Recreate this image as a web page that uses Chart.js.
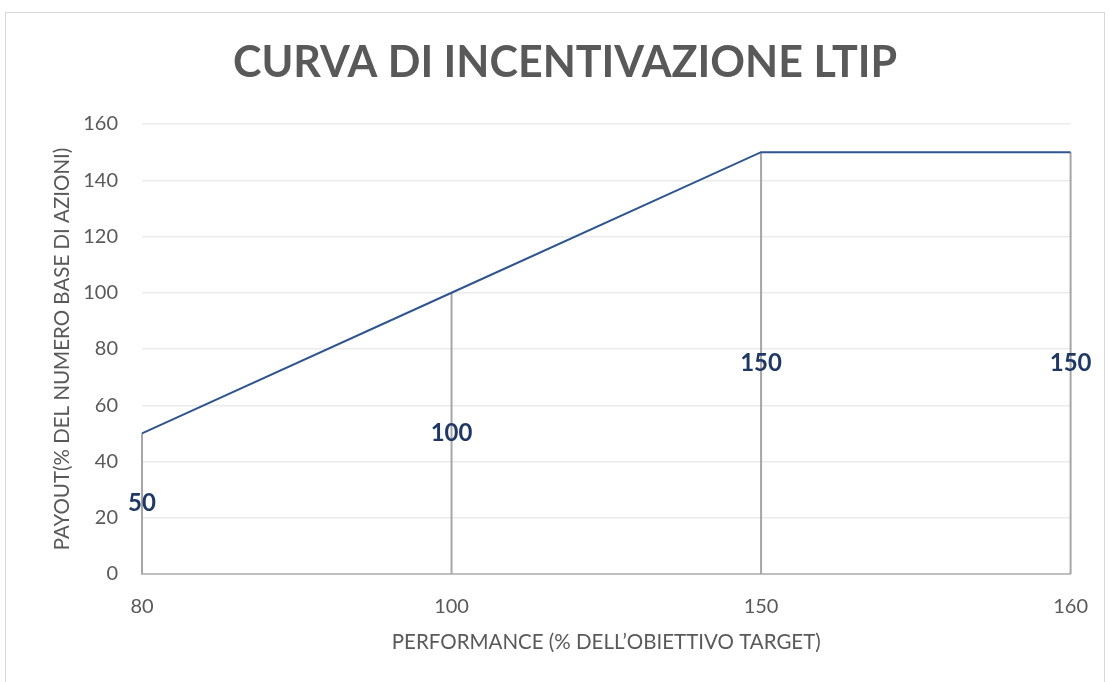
<!DOCTYPE html>
<html>
<head>
<meta charset="utf-8">
<script src="https://cdn.jsdelivr.net/npm/chart.js@4/dist/chart.umd.min.js"></script>
<style>
  html, body { margin: 0; padding: 0; background: #fff; overflow: hidden; }
  #frame { position: absolute; left: 5px; top: 12px; width: 1100px; height: 680px; border: 1px solid #d9d9d9; box-sizing: border-box; }
  #wrap { position: absolute; left: 0; top: 0; width: 1109px; height: 682px; }
</style>
</head>
<body>
<div id="frame"></div>
<div id="wrap"><canvas id="curveChart"></canvas></div>
<script>
// dati della curva
const chartTitle = 'CURVA DI INCENTIVAZIONE LTIP';
const performance = ['80', '100', '150', '160'];
const payout = [50, 100, 150, 150];
const yTicks = [0, 20, 40, 60, 80, 100, 120, 140, 160];

// titolo, linee verticali ed etichette a metà altezza
const dropLines = {
    id: 'dropLines',
    beforeDatasetsDraw(chart) {
        const ctx = chart.ctx;
        const x = chart.scales.x, y = chart.scales.y;
        ctx.save();
        ctx.strokeStyle = '#a6a6a6';
        ctx.lineWidth = 2;
        payout.forEach((v, i) => {
            const px = x.getPixelForValue(i);
            ctx.beginPath();
            ctx.moveTo(px, y.getPixelForValue(v));
            ctx.lineTo(px, y.getPixelForValue(0));
            ctx.stroke();
        });
        ctx.restore();
    },
    afterDatasetsDraw(chart) {
        const ctx = chart.ctx;
        const x = chart.scales.x, y = chart.scales.y;
        ctx.save();
        ctx.fillStyle = '#1f3864';
        ctx.font = 'bold 24px Lato';
        ctx.textAlign = 'center';
        ctx.textBaseline = 'middle';
        payout.forEach((v, i) => {
            ctx.fillText(String(v), x.getPixelForValue(i), y.getPixelForValue(v / 2));
        });
        // titolo
        ctx.fillStyle = '#595959';
        ctx.font = 'bold 43px Lato';
        ctx.fillText(chartTitle, 565, 63);
        ctx.restore();
    }
};

new Chart(document.getElementById('curveChart'), {
    type: 'line',
    data: {
        labels: performance,
        datasets: [{
            data: payout,
            borderColor: '#2e5590',
            borderWidth: 2,
            pointRadius: 0,
            tension: 0,
            fill: false
        }]
    },
    options: {
        responsive: true,
        maintainAspectRatio: false,
        animation: false,
        layout: { padding: { left: 0, right: 35, top: 124, bottom: 0 } },
        plugins: {
            legend: { display: false },
            tooltip: { enabled: false },
            title: { display: false }
        },
        scales: {
            x: {
                offset: false,
                afterFit(scale) { scale.height = 108; },
                grid: { display: false, drawTicks: false },
                border: { display: true, color: '#bfbfbf', width: 2 },
                ticks: {
                    color: '#595959',
                    font: { family: 'Lato', size: 20, lineHeight: 1.2 },
                    padding: 21,
                    maxRotation: 0
                },
                title: {
                    display: true,
                    text: 'PERFORMANCE (% DELL\u2019OBIETTIVO TARGET)',
                    color: '#595959',
                    font: { family: 'Lato', size: 20.5, lineHeight: 1.2 },
                    padding: { top: 0, bottom: 27 }
                }
            },
            y: {
                min: 0,
                max: 160,
                afterBuildTicks(scale) {
                    scale.ticks = yTicks.map(v => ({ value: v }));
                },
                afterFit(scale) { scale.width = 142; },
                grid: { color: '#ebebeb', lineWidth: 1.5, drawTicks: false },
                border: { display: false },
                ticks: {
                    color: '#595959',
                    font: { family: 'Lato', size: 20 },
                    padding: 24
                },
                title: {
                    display: true,
                    text: 'PAYOUT(% DEL NUMERO BASE DI AZIONI)',
                    color: '#595959',
                    font: { family: 'Lato', size: 20.5, lineHeight: 1.2 },
                    padding: { top: 50, bottom: 0 }
                }
            }
        }
    },
    plugins: [dropLines]
});
</script>
</body>
</html>
